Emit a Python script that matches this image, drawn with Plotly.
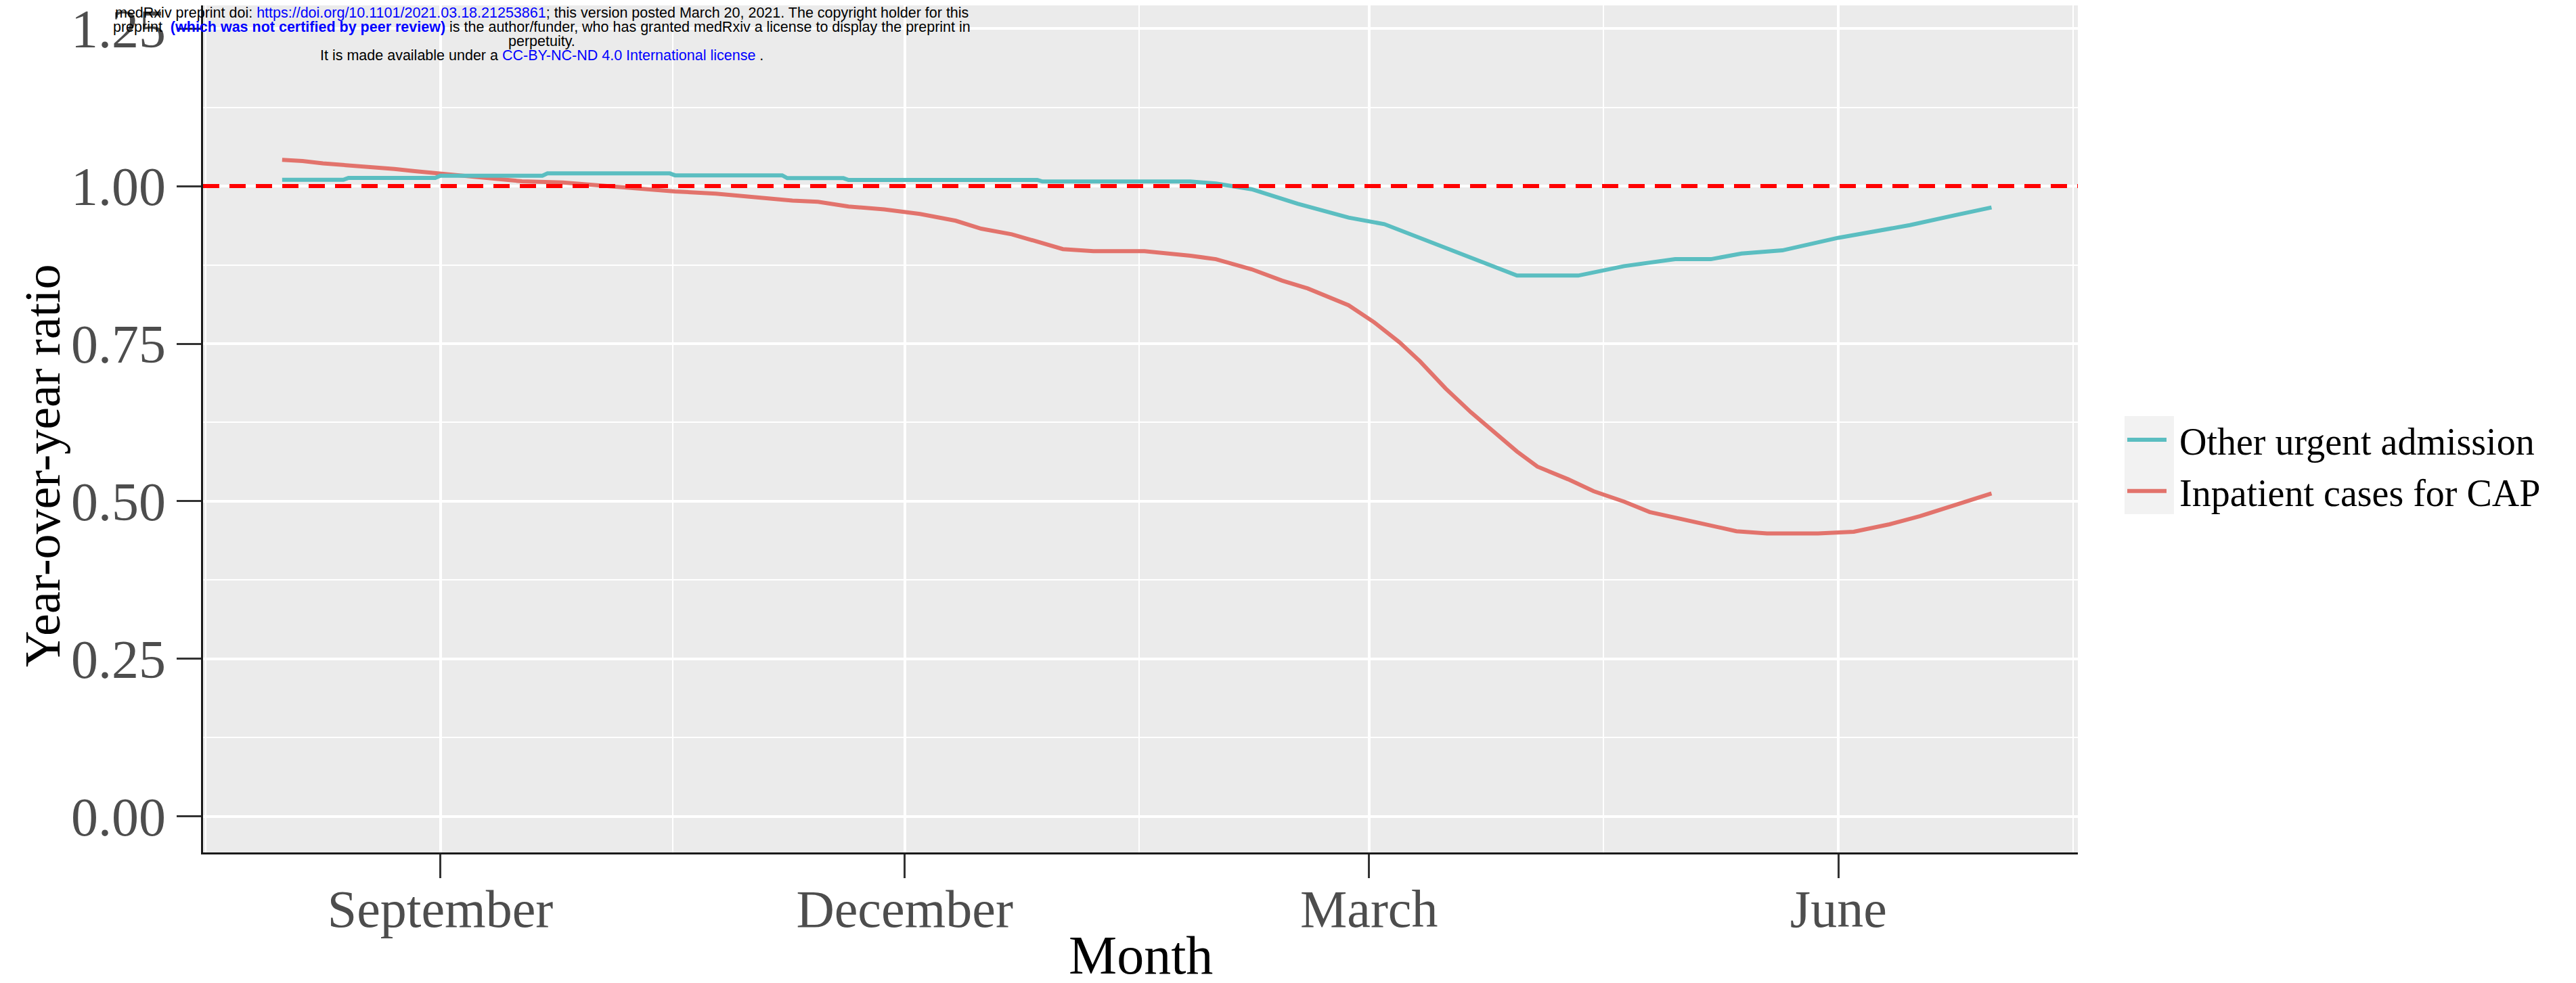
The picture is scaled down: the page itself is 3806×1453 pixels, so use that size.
import plotly.graph_objects as go

# ---------------- data ----------------
other_dates = ["2019-08-01", "2019-08-13", "2019-08-14", "2019-08-31", "2019-09-01", "2019-09-21",
               "2019-09-22", "2019-10-16", "2019-10-17", "2019-11-07", "2019-11-08", "2019-11-19",
               "2019-11-20", "2019-12-27", "2019-12-28", "2020-01-26", "2020-01-31", "2020-02-07",
               "2020-02-16", "2020-02-26", "2020-03-04", "2020-03-13", "2020-03-23", "2020-03-30",
               "2020-04-11", "2020-04-20", "2020-04-30", "2020-05-07", "2020-05-13", "2020-05-21",
               "2020-06-01", "2020-06-15", "2020-06-24", "2020-07-01"]
other_vals = [1.010, 1.010, 1.013, 1.013, 1.0165, 1.0165,
              1.020, 1.020, 1.017, 1.017, 1.0125, 1.0125,
              1.0097, 1.0097, 1.0072, 1.0072, 1.004, 0.995,
              0.972, 0.950, 0.9396, 0.911, 0.879, 0.858,
              0.858, 0.873, 0.884, 0.884, 0.893, 0.898,
              0.918, 0.938, 0.954, 0.966]

cap_dates = ["2019-08-01", "2019-08-05", "2019-08-09", "2019-08-14", "2019-08-18", "2019-08-23",
             "2019-08-27", "2019-08-31", "2019-09-04", "2019-09-09", "2019-09-13", "2019-09-17",
             "2019-09-25", "2019-09-29", "2019-10-08", "2019-10-17", "2019-10-25", "2019-10-30",
             "2019-11-04", "2019-11-09", "2019-11-14", "2019-11-20", "2019-11-27", "2019-12-04",
             "2019-12-11", "2019-12-16", "2019-12-22", "2019-12-27", "2020-01-01", "2020-01-07",
             "2020-01-17", "2020-01-26", "2020-01-31", "2020-02-07", "2020-02-13", "2020-02-18",
             "2020-02-26", "2020-03-02", "2020-03-07", "2020-03-11", "2020-03-16", "2020-03-21",
             "2020-03-26", "2020-03-30", "2020-04-03", "2020-04-09", "2020-04-14", "2020-04-20",
             "2020-04-25", "2020-05-03", "2020-05-12", "2020-05-18", "2020-05-28", "2020-06-04",
             "2020-06-11", "2020-06-17", "2020-06-24", "2020-07-01"]
cap_vals = [1.0415, 1.0397, 1.036, 1.033, 1.0297, 1.027,
            1.0236, 1.0207, 1.018, 1.013, 1.010, 1.0075,
            1.0057, 1.003, 0.997, 0.9914, 0.988, 0.984,
            0.981, 0.977, 0.975, 0.9675, 0.963, 0.9557,
            0.945, 0.9324, 0.9235, 0.911, 0.900, 0.8967,
            0.8967, 0.8895, 0.884, 0.868, 0.850, 0.8376,
            0.811, 0.784, 0.752, 0.722, 0.679, 0.641,
            0.607, 0.579, 0.555, 0.535, 0.516, 0.4995,
            0.483, 0.468, 0.4526, 0.449, 0.449, 0.4517,
            0.4635, 0.4764, 0.4946, 0.5124]

series_names = ["Other urgent admission", "Inpatient cases for CAP"]
month_ticks = ["2019-09-01", "2019-12-01", "2020-03-01", "2020-06-01"]
month_labels = ["September", "December", "March", "June"]
month_minor = ["2019-07-17", "2019-10-16 12:00", "2020-01-16", "2020-04-16", "2020-07-17"]
y_ticks = [0.0, 0.25, 0.5, 0.75, 1.0, 1.25]
y_labels = ["0.00", "0.25", "0.50", "0.75", "1.00", "1.25"]
y_minor = [0.125, 0.375, 0.625, 0.875, 1.125]
reference_ratio = 1.0

TEAL = "#5BBEC1"
RED = "#E2736C"
SERIF = "Liberation Serif, Times New Roman, serif"
NB = "\u00a0"

W, H = 3806, 1453
ML, MR, MT, MB = 292, 744, 0, 201
PW = W - ML - MR
PH = H - MT - MB

fig = go.Figure()
fig.add_trace(go.Scatter(x=cap_dates, y=cap_vals, mode="lines", name=NB + series_names[1],
                         line=dict(color=RED, width=6)))
fig.add_trace(go.Scatter(x=other_dates, y=other_vals, mode="lines", name=NB + series_names[0],
                         line=dict(color=TEAL, width=6)))

fig.add_hline(y=reference_ratio, line=dict(color="#FF0000", width=6, dash="24px,15px"))

def px_x(px):
    return (px - ML) / PW

def px_y(py):
    return 1 - (py - MT) / PH

# legend key background
fig.add_shape(type="rect", xref="paper", yref="paper",
              x0=px_x(3131), x1=px_x(3204), y0=px_y(752), y1=px_y(607),
              fillcolor="#F2F2F2", line=dict(width=0), layer="below")

fig.update_layout(
    width=W, height=H,
    margin=dict(l=ML, r=MR, t=MT, b=MB, autoexpand=False),
    paper_bgcolor="white",
    plot_bgcolor="#EBEBEB",
    font=dict(family=SERIF, color="black"),
    showlegend=True,
    legend=dict(x=px_x(3130), y=px_y(680), xanchor="left", yanchor="middle",
                traceorder="reversed", bgcolor="rgba(0,0,0,0)",
                font=dict(family=SERIF, size=56, color="black"),
                itemwidth=58, tracegroupgap=0),
    xaxis=dict(
        type="date",
        range=["2019-07-16 12:00", "2020-07-17 22:00"],
        tickmode="array", tickvals=month_ticks, ticktext=month_labels,
        ticks="outside", ticklen=35, tickwidth=3, tickcolor="#333333",
        tickfont=dict(family=SERIF, size=78, color="#4D4D4D"),
        ticklabelstandoff=-22,
        showline=True, linecolor="#1a1a1a", linewidth=3,
        showgrid=True, gridcolor="white", gridwidth=4,
        zeroline=False,
        minor=dict(tickmode="array", tickvals=month_minor, showgrid=True,
                   gridcolor="white", gridwidth=2, ticks=""),
    ),
    yaxis=dict(
        range=[-0.0569, 1.2865],
        tickmode="array", tickvals=y_ticks, ticktext=y_labels,
        ticks="outside", ticklen=36, tickwidth=3, tickcolor="#333333",
        tickfont=dict(family=SERIF, size=80, color="#4D4D4D"),
        ticklabeloverflow="allow",
        showline=True, linecolor="#1a1a1a", linewidth=3,
        showgrid=True, gridcolor="white", gridwidth=4,
        zeroline=False,
        minor=dict(tickmode="array", tickvals=y_minor, showgrid=True,
                   gridcolor="white", gridwidth=2, ticks=""),
    ),
)

# axis titles (placed as in the reference)
fig.add_annotation(text="Year-over-year ratio", xref="paper", yref="paper",
                   x=px_x(55), y=px_y(680), textangle=-90, showarrow=False,
                   xanchor="center", yanchor="middle",
                   font=dict(family=SERIF, size=74, color="black"))
fig.add_annotation(text="Month", xref="paper", yref="paper",
                   x=0.5, y=px_y(1404), showarrow=False,
                   xanchor="center", yanchor="middle",
                   font=dict(family=SERIF, size=80, color="black"))

# medRxiv header
HF = "Liberation Sans, Arial, sans-serif"
header_lines = [
    "medRxiv preprint doi: <span style='color:#0000FF'>https://doi.org/10.1101/2021.03.18.21253861</span>; this version posted March 20, 2021. The copyright holder for this",
    "preprint  <b><span style='color:#0000FF'>(which was not certified by peer review)</span></b> is the author/funder, who has granted medRxiv a license to display the preprint in",
    "perpetuity.",
    "It is made available under a <span style='color:#0000FF'>CC-BY-NC-ND 4.0 International license</span> .",
]
header_y = [11, 32, 53, 74]
for txt, yy in zip(header_lines, header_y):
    fig.add_annotation(text=txt, xref="paper", yref="paper", x=px_x(792), y=px_y(yy),
                       showarrow=False, xanchor="center", yanchor="middle",
                       font=dict(family=HF, size=21.5, color="black"))

fig.write_html("out.html")
